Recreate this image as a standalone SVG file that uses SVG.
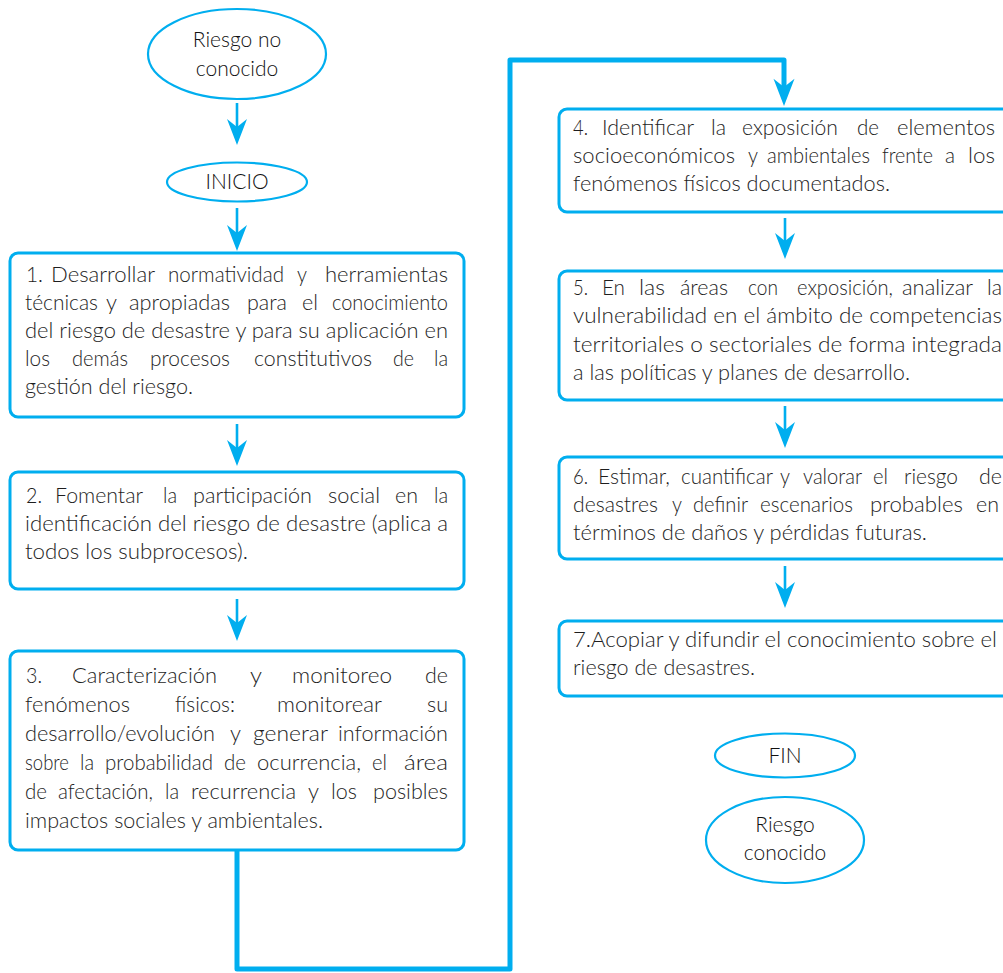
<svg xmlns="http://www.w3.org/2000/svg" width="1003" height="973" viewBox="0 0 1003 973">
  <style>
    .box { fill: #ffffff; stroke: #00aeef; stroke-width: 3; }
    .term { fill: #ffffff; stroke: #00aeef; stroke-width: 2.2; }
    .t { font-family: Lato, "Open Sans", "Liberation Sans", sans-serif; font-size: 21px; font-weight: 300; fill: #1e1e1e; }
    .tc { font-family: Lato, "Open Sans", "Liberation Sans", sans-serif; font-size: 21px; font-weight: 300; fill: #111111; text-anchor: middle; }
    .arrow { stroke: #00aeef; stroke-width: 2.6; fill: none; }
    .flow { stroke: #00aeef; stroke-width: 5; fill: none; stroke-linejoin: round; }
    .head { fill: #00aeef; }
  </style>
  <defs>
    <!-- notched arrowhead, tip at origin pointing down -->
    <path id="ah" class="head" d="M0,0 L-10,-26 L0,-18 L10,-26 Z"/>
  </defs>

  <rect width="1003" height="973" fill="#ffffff"/>

  <g id="connectors">
    <line class="arrow" x1="237" y1="103" x2="237" y2="130"/>
    <use href="#ah" x="237" y="145"/>
    <line class="arrow" x1="237" y1="208" x2="237" y2="235"/>
    <use href="#ah" x="237" y="251"/>
    <line class="arrow" x1="237" y1="424" x2="237" y2="450"/>
    <use href="#ah" x="237" y="466"/>
    <line class="arrow" x1="237" y1="599" x2="237" y2="625"/>
    <use href="#ah" x="237" y="641"/>
    <path class="flow" d="M237,850 L237,969 L510,969 L510,60 L784,60 L784,88"/>
    <use href="#ah" x="784" y="106" transform="translate(784 106) scale(1.05) translate(-784 -106)"/>
    <line class="arrow" x1="785" y1="218" x2="785" y2="243"/>
    <use href="#ah" x="785" y="259"/>
    <line class="arrow" x1="785" y1="406" x2="785" y2="432"/>
    <use href="#ah" x="785" y="448"/>
    <line class="arrow" x1="785" y1="566" x2="785" y2="592"/>
    <use href="#ah" x="785" y="608"/>
  </g>

  <g id="riesgo-no-conocido">
    <ellipse class="term" cx="237" cy="54" rx="89" ry="45"/>
    <text class="tc" x="237" y="47">Riesgo no</text>
    <text class="tc" x="237" y="76">conocido</text>
  </g>

  <g id="inicio">
    <ellipse class="term" cx="237" cy="182" rx="70" ry="19.5"/>
    <text class="tc" x="237" y="189">INICIO</text>
  </g>

  <g id="paso-1">
    <rect class="box" x="10" y="253" width="454" height="164" rx="8"/>
    <text class="t" y="282"><tspan x="26" textLength="17" lengthAdjust="spacingAndGlyphs">1.</tspan><tspan x="51" textLength="104" lengthAdjust="spacingAndGlyphs">Desarrollar</tspan><tspan x="168" textLength="116" lengthAdjust="spacingAndGlyphs">normatividad</tspan><tspan x="297" textLength="10" lengthAdjust="spacingAndGlyphs">y</tspan><tspan x="325" textLength="123" lengthAdjust="spacingAndGlyphs">herramientas</tspan></text>
    <text class="t" y="310"><tspan x="25" textLength="73" lengthAdjust="spacingAndGlyphs">técnicas</tspan><tspan x="106" textLength="11" lengthAdjust="spacingAndGlyphs">y</tspan><tspan x="129" textLength="101" lengthAdjust="spacingAndGlyphs">apropiadas</tspan><tspan x="247" textLength="40" lengthAdjust="spacingAndGlyphs">para</tspan><tspan x="302" textLength="16" lengthAdjust="spacingAndGlyphs">el</tspan><tspan x="332" textLength="116" lengthAdjust="spacingAndGlyphs">conocimiento</tspan></text>
    <text class="t" x="25" y="338" textLength="423" lengthAdjust="spacingAndGlyphs">del riesgo de desastre y para su aplicación en</text>
    <text class="t" y="366"><tspan x="25" textLength="25" lengthAdjust="spacingAndGlyphs">los</tspan><tspan x="72" textLength="56" lengthAdjust="spacingAndGlyphs">demás</tspan><tspan x="150" textLength="80" lengthAdjust="spacingAndGlyphs">procesos</tspan><tspan x="254" textLength="118" lengthAdjust="spacingAndGlyphs">constitutivos</tspan><tspan x="393" textLength="21" lengthAdjust="spacingAndGlyphs">de</tspan><tspan x="434" textLength="14" lengthAdjust="spacingAndGlyphs">la</tspan></text>
    <text class="t" x="25" y="394" textLength="168" lengthAdjust="spacingAndGlyphs">gestión del riesgo.</text>
  </g>

  <g id="paso-2">
    <rect class="box" x="10" y="472" width="454" height="117" rx="8"/>
    <text class="t" y="503"><tspan x="26" textLength="16" lengthAdjust="spacingAndGlyphs">2.</tspan><tspan x="55" textLength="88" lengthAdjust="spacingAndGlyphs">Fomentar</tspan><tspan x="163" textLength="14" lengthAdjust="spacingAndGlyphs">la</tspan><tspan x="193" textLength="119" lengthAdjust="spacingAndGlyphs">participación</tspan><tspan x="328" textLength="52" lengthAdjust="spacingAndGlyphs">social</tspan><tspan x="395" textLength="23" lengthAdjust="spacingAndGlyphs">en</tspan><tspan x="434" textLength="14" lengthAdjust="spacingAndGlyphs">la</tspan></text>
    <text class="t" x="25" y="531" textLength="423" lengthAdjust="spacingAndGlyphs">identificación del riesgo de desastre (aplica a</text>
    <text class="t" x="25" y="559" textLength="223" lengthAdjust="spacingAndGlyphs">todos los subprocesos).</text>
  </g>

  <g id="paso-3">
    <rect class="box" x="10" y="651" width="454" height="199" rx="8"/>
    <text class="t" y="683"><tspan x="26" textLength="16" lengthAdjust="spacingAndGlyphs">3.</tspan><tspan x="72" textLength="145" lengthAdjust="spacingAndGlyphs">Caracterización</tspan><tspan x="250" textLength="12" lengthAdjust="spacingAndGlyphs">y</tspan><tspan x="292" textLength="100" lengthAdjust="spacingAndGlyphs">monitoreo</tspan><tspan x="425" textLength="23" lengthAdjust="spacingAndGlyphs">de</tspan></text>
    <text class="t" y="712"><tspan x="25" textLength="105" lengthAdjust="spacingAndGlyphs">fenómenos</tspan><tspan x="175" textLength="60" lengthAdjust="spacingAndGlyphs">físicos:</tspan><tspan x="277" textLength="105" lengthAdjust="spacingAndGlyphs">monitorear</tspan><tspan x="427" textLength="21" lengthAdjust="spacingAndGlyphs">su</tspan></text>
    <text class="t" y="741"><tspan x="25" textLength="190" lengthAdjust="spacingAndGlyphs">desarrollo/evolución</tspan><tspan x="230" textLength="11" lengthAdjust="spacingAndGlyphs">y</tspan><tspan x="253" textLength="75" lengthAdjust="spacingAndGlyphs">generar</tspan><tspan x="338" textLength="110" lengthAdjust="spacingAndGlyphs">información</tspan></text>
    <text class="t" y="770"><tspan x="25" textLength="44" lengthAdjust="spacingAndGlyphs">sobre</tspan><tspan x="80" textLength="14" lengthAdjust="spacingAndGlyphs">la</tspan><tspan x="105" textLength="108" lengthAdjust="spacingAndGlyphs">probabilidad</tspan><tspan x="224" textLength="22" lengthAdjust="spacingAndGlyphs">de</tspan><tspan x="257" textLength="104" lengthAdjust="spacingAndGlyphs">ocurrencia,</tspan><tspan x="372" textLength="15" lengthAdjust="spacingAndGlyphs">el</tspan><tspan x="404" textLength="44" lengthAdjust="spacingAndGlyphs">área</tspan></text>
    <text class="t" y="799"><tspan x="25" textLength="22" lengthAdjust="spacingAndGlyphs">de</tspan><tspan x="58" textLength="95" lengthAdjust="spacingAndGlyphs">afectación,</tspan><tspan x="165" textLength="14" lengthAdjust="spacingAndGlyphs">la</tspan><tspan x="191" textLength="105" lengthAdjust="spacingAndGlyphs">recurrencia</tspan><tspan x="308" textLength="11" lengthAdjust="spacingAndGlyphs">y</tspan><tspan x="331" textLength="26" lengthAdjust="spacingAndGlyphs">los</tspan><tspan x="373" textLength="75" lengthAdjust="spacingAndGlyphs">posibles</tspan></text>
    <text class="t" x="25" y="828" textLength="298" lengthAdjust="spacingAndGlyphs">impactos sociales y ambientales.</text>
  </g>

  <g id="paso-4">
    <rect class="box" x="559" y="109" width="460" height="103" rx="8"/>
    <text class="t" y="135"><tspan x="573" textLength="15" lengthAdjust="spacingAndGlyphs">4.</tspan><tspan x="602" textLength="92" lengthAdjust="spacingAndGlyphs">Identificar</tspan><tspan x="711" textLength="15" lengthAdjust="spacingAndGlyphs">la</tspan><tspan x="742" textLength="96" lengthAdjust="spacingAndGlyphs">exposición</tspan><tspan x="857" textLength="22" lengthAdjust="spacingAndGlyphs">de</tspan><tspan x="897" textLength="98" lengthAdjust="spacingAndGlyphs">elementos</tspan></text>
    <text class="t" y="163"><tspan x="573" textLength="162" lengthAdjust="spacingAndGlyphs">socioeconómicos</tspan><tspan x="748" textLength="10" lengthAdjust="spacingAndGlyphs">y</tspan><tspan x="767" textLength="103" lengthAdjust="spacingAndGlyphs">ambientales</tspan><tspan x="882" textLength="51" lengthAdjust="spacingAndGlyphs">frente</tspan><tspan x="945" textLength="10" lengthAdjust="spacingAndGlyphs">a</tspan><tspan x="968" textLength="27" lengthAdjust="spacingAndGlyphs">los</tspan></text>
    <text class="t" x="573" y="191" textLength="317" lengthAdjust="spacingAndGlyphs">fenómenos físicos documentados.</text>
  </g>

  <g id="paso-5">
    <rect class="box" x="559" y="271" width="460" height="129" rx="8"/>
    <text class="t" y="295"><tspan x="573" textLength="15" lengthAdjust="spacingAndGlyphs">5.</tspan><tspan x="602" textLength="23" lengthAdjust="spacingAndGlyphs">En</tspan><tspan x="639" textLength="26" lengthAdjust="spacingAndGlyphs">las</tspan><tspan x="680" textLength="48" lengthAdjust="spacingAndGlyphs">áreas</tspan><tspan x="748" textLength="30" lengthAdjust="spacingAndGlyphs">con</tspan><tspan x="797" textLength="96" lengthAdjust="spacingAndGlyphs">exposición,</tspan><tspan x="902" textLength="71" lengthAdjust="spacingAndGlyphs">analizar</tspan><tspan x="987" textLength="15" lengthAdjust="spacingAndGlyphs">la</tspan></text>
    <text class="t" x="573" y="323" textLength="429" lengthAdjust="spacingAndGlyphs">vulnerabilidad en el ámbito de competencias</text>
    <text class="t" x="573" y="352" textLength="429" lengthAdjust="spacingAndGlyphs">territoriales o sectoriales de forma integrada</text>
    <text class="t" x="573" y="380" textLength="337" lengthAdjust="spacingAndGlyphs">a las políticas y planes de desarrollo.</text>
  </g>

  <g id="paso-6">
    <rect class="box" x="559" y="457" width="460" height="102" rx="8"/>
    <text class="t" y="484"><tspan x="573" textLength="15" lengthAdjust="spacingAndGlyphs">6.</tspan><tspan x="598" textLength="72" lengthAdjust="spacingAndGlyphs">Estimar,</tspan><tspan x="681" textLength="92" lengthAdjust="spacingAndGlyphs">cuantificar</tspan><tspan x="780" textLength="10" lengthAdjust="spacingAndGlyphs">y</tspan><tspan x="803" textLength="59" lengthAdjust="spacingAndGlyphs">valorar</tspan><tspan x="873" textLength="15" lengthAdjust="spacingAndGlyphs">el</tspan><tspan x="904" textLength="54" lengthAdjust="spacingAndGlyphs">riesgo</tspan><tspan x="979" textLength="23" lengthAdjust="spacingAndGlyphs">de</tspan></text>
    <text class="t" y="512"><tspan x="573" textLength="85" lengthAdjust="spacingAndGlyphs">desastres</tspan><tspan x="672" textLength="10" lengthAdjust="spacingAndGlyphs">y</tspan><tspan x="693" textLength="55" lengthAdjust="spacingAndGlyphs">definir</tspan><tspan x="760" textLength="93" lengthAdjust="spacingAndGlyphs">escenarios</tspan><tspan x="870" textLength="93" lengthAdjust="spacingAndGlyphs">probables</tspan><tspan x="976" textLength="23" lengthAdjust="spacingAndGlyphs">en</tspan></text>
    <text class="t" x="573" y="540" textLength="354" lengthAdjust="spacingAndGlyphs">términos de daños y pérdidas futuras.</text>
  </g>

  <g id="paso-7">
    <rect class="box" x="559" y="621" width="460" height="75" rx="8"/>
    <text class="t" x="573" y="647" textLength="424" lengthAdjust="spacingAndGlyphs">7.Acopiar y difundir el conocimiento sobre el</text>
    <text class="t" x="573" y="675" textLength="182" lengthAdjust="spacingAndGlyphs">riesgo de desastres.</text>
  </g>

  <g id="fin">
    <ellipse class="term" cx="785" cy="755.5" rx="70" ry="22"/>
    <text class="tc" x="785" y="763">FIN</text>
  </g>

  <g id="riesgo-conocido">
    <ellipse class="term" cx="785" cy="840" rx="79" ry="43"/>
    <text class="tc" x="785" y="832">Riesgo</text>
    <text class="tc" x="785" y="860">conocido</text>
  </g>
</svg>
